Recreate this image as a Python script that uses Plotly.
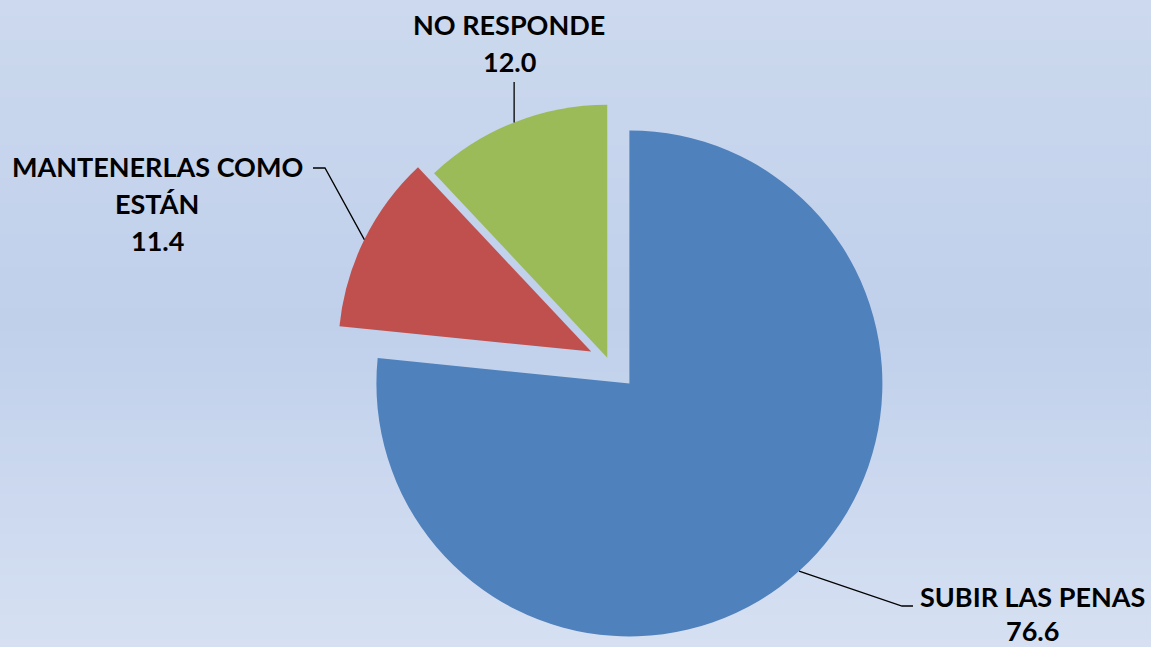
import math
import plotly.graph_objects as go

# ---- data ----
categories = ["SUBIR LAS PENAS", "MANTENERLAS COMO ESTÁN", "NO RESPONDE"]
values = [76.6, 11.4, 12.0]
label_lines = [["SUBIR LAS PENAS"], ["MANTENERLAS COMO", "ESTÁN"], ["NO RESPONDE"]]

# ---- style / layout ----
colors = ["#4F81BD", "#C0504D", "#9BBB59"]
pulls = [0.125, 0.075, 0.01]
W, H = 1151, 647
dom_x = [0.2284, 0.8284]
dom_y = [0.0037, 0.8835]
FONT = "Lato"
FSIZE = 27
# label block: (center x px, first line center y px, line spacing, leader elbow px, end px)
label_pos = [
    dict(cx=1032, y0=596, lh=34.5, elbow=(902, 606), end=(913, 606)),
    dict(cx=157, y0=167, lh=36.5, elbow=(325, 168), end=(313, 168)),
    dict(cx=509, y0=25, lh=36.5, elbow=None, end=(None, 82)),
]

fig = go.Figure()
fig.add_trace(go.Pie(
    labels=categories, values=values, sort=False, direction="clockwise",
    rotation=0, pull=pulls, marker=dict(colors=colors, line=dict(width=0)),
    textinfo="none", hoverinfo="label+value", showlegend=False,
    domain=dict(x=dom_x, y=dom_y),
))

# geometry matching plotly's pie layout
gw = W * (dom_x[1] - dom_x[0])
gh = H * (dom_y[1] - dom_y[0])
r = min(gw, gh) / (2 * (1 + max(pulls)))
cx = W * (dom_x[0] + dom_x[1]) / 2
cy = H * (1 - (dom_y[0] + dom_y[1]) / 2)
total = sum(values)

def px2paper(x, y):
    return x / W, 1 - y / H

shapes = []
# gradient background bands
stops = [(0.0, (204, 217, 238)), (0.5, (192, 208, 235)), (1.0, (214, 224, 242))]
def grad(t):
    for (t0, c0), (t1, c1) in zip(stops[:-1], stops[1:]):
        if t0 <= t <= t1:
            u = (t - t0) / (t1 - t0)
            return tuple(round(a + (b - a) * u) for a, b in zip(c0, c1))
    return stops[-1][1]
N = 80
for i in range(N):
    c = grad((i + 0.5) / N)
    shapes.append(dict(type="rect", xref="paper", yref="paper", x0=0, x1=1,
                       y0=1 - (i + 1) / N - 0.002, y1=1 - i / N,
                       fillcolor="rgb(%d,%d,%d)" % c, line=dict(width=0), layer="below"))

annotations = []
cum = 0.0
for i, v in enumerate(values):
    f = (cum + v / 2) / total
    cum += v
    th = 2 * math.pi * f
    dx, dy = math.sin(th), -math.cos(th)
    ax = cx + pulls[i] * r * dx
    ay = cy + pulls[i] * r * dy
    ex, ey = ax + r * dx, ay + r * dy
    lp = label_pos[i]
    pts = [(ex, ey)]
    if lp["elbow"] is not None:
        pts.append(lp["elbow"])
        pts.append(lp["end"])
    else:
        pts.append((ex, lp["end"][1]))
    path = ""
    for k, (x, y) in enumerate(pts):
        xp, yp = px2paper(x, y)
        path += ("M" if k == 0 else "L") + " %.5f %.5f " % (xp, yp)
    shapes.append(dict(type="path", xref="paper", yref="paper", path=path,
                       line=dict(color="black", width=1.3)))
    lines = label_lines[i] + ["%.1f" % v]
    for k, t in enumerate(lines):
        xp, yp = px2paper(lp["cx"], lp["y0"] + k * lp["lh"])
        annotations.append(dict(x=xp, y=yp, xref="paper", yref="paper", text="<b>%s</b>" % t,
                                showarrow=False, xanchor="center", yanchor="middle",
                                font=dict(family=FONT, size=FSIZE, color="black")))

fig.update_layout(
    width=W, height=H, margin=dict(l=0, r=0, t=0, b=0),
    paper_bgcolor="rgb(200,214,237)", plot_bgcolor="rgba(0,0,0,0)",
    shapes=shapes, annotations=annotations,
)
fig.write_html(
    "out.html",
    config={"displayModeBar": False},
    post_script="document.body.style.margin='0';document.body.style.overflow='hidden';",
)
